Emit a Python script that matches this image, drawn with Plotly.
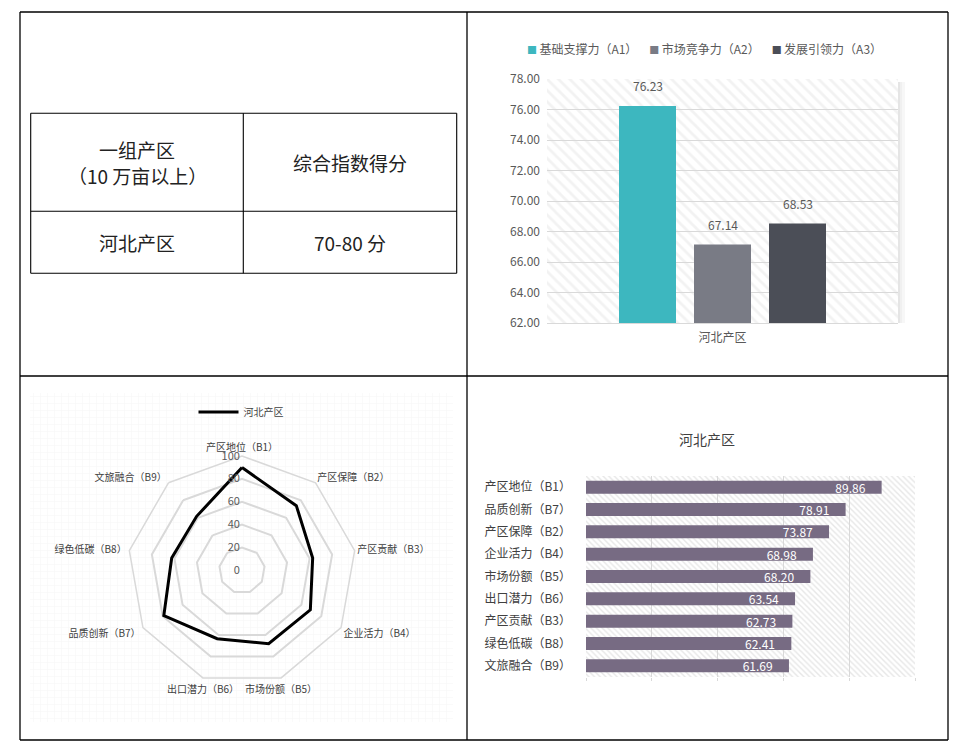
import math
import plotly.graph_objects as go

W, H = 967, 746
FONT = "Noto Sans CJK SC, Microsoft YaHei, sans-serif"

# ---------------- data ----------------
table_header_l = ["一组产区", "（10 万亩以上）"]
table_header_r = "综合指数得分"
table_row = ["河北产区", "70-80 分"]

region = "河北产区"
a_names = ["基础支撑力（A1）", "市场竞争力（A2）", "发展引领力（A3）"]
a_values = [76.23, 67.14, 68.53]
a_colors = ["#3db7bf", "#797b85", "#4b4e57"]
a_ticks = [62, 64, 66, 68, 70, 72, 74, 76, 78]

b_names = ["产区地位（B1）", "产区保障（B2）", "产区贡献（B3）", "企业活力（B4）",
           "市场份额（B5）", "出口潜力（B6）", "品质创新（B7）", "绿色低碳（B8）",
           "文旅融合（B9）"]
b_values = [89.86, 73.87, 62.73, 68.98, 68.20, 63.54, 78.91, 62.41, 61.69]
b_color = "#776b83"
radial_ticks = [0, 20, 40, 60, 80, 100]
bar_ticks = [0, 20, 40, 60, 80, 100]


def px(x):
    return x / W


def py(y):
    return 1 - y / H


# plot-area boxes (pixels)
TR = (547, 898, 79, 323)
BR = (586, 915, 476, 677)
BL = (30, 453, 393, 722)
cx, cy, R = 242, 570.4, 114.4
BARGAP, BARGROUPGAP = 0.359, 0.24

fig = go.Figure()

box = dict(x=[0, 1, 1, 0, 0], y=[0, 0, 1, 1, 0])


def hatch(xa, ya, shape, fg, size, sol):
    fig.add_trace(go.Scatter(
        **box, xaxis=xa, yaxis=ya, mode="lines", fill="toself",
        fillcolor="rgba(0,0,0,0)", line=dict(width=0),
        fillpattern=dict(shape=shape, fgcolor=fg, bgcolor="white", size=size, solidity=sol),
        hoverinfo="skip", showlegend=False))


hatch("x", "y", "\\", "#e6e6e6", 8, 0.35)
hatch("x2", "y2", "\\", "#cfcfcf", 4, 0.35)
hatch("x3", "y3", "+", "#e9e9e9", 7, 0.12)

# top-right grouped bars
for n, v, c in zip(a_names, a_values, a_colors):
    fig.add_trace(go.Bar(
        x=[region], y=[v], name=n, marker=dict(color=c, line=dict(width=0)),
        xaxis="x4", yaxis="y4", showlegend=False))

# bottom-right horizontal bars (sorted descending)
order = sorted(range(len(b_values)), key=lambda i: -b_values[i])
fig.add_trace(go.Bar(
    x=[b_values[i] for i in order], y=[b_names[i] for i in order],
    orientation="h", width=0.58, marker=dict(color=b_color, line=dict(width=0)),
    texttemplate="%{x:.2f}\u2007\u2007", textposition="inside", insidetextanchor="end",
    constraintext="none",
    textfont=dict(size=12, color="white"), xaxis="x5", yaxis="y5", showlegend=False))

# radar
fig.add_trace(go.Scatterpolar(
    r=b_values + [b_values[0]], theta=b_names + [b_names[0]], mode="lines",
    line=dict(color="black", width=3), name=region, legend="legend2"))

# angular labels near the bottom are centred under their vertex (as in the source)
nB = len(b_names)
angles = [i * 360 / nB for i in range(nB)]
bottom = [math.cos(math.radians(a)) < -0.9 for a in angles]
ang_text = ["" if bt else n for n, bt in zip(b_names, bottom)]

hidden = dict(visible=False, range=[0, 1], fixedrange=True)
fig.update_layout(
    width=W, height=H, margin=dict(l=0, r=0, t=0, b=0, autoexpand=False),
    paper_bgcolor="white", plot_bgcolor="rgba(0,0,0,0)",
    font=dict(family=FONT, size=12, color="#595959"),
    barmode="group", bargap=BARGAP, bargroupgap=BARGROUPGAP,
    xaxis=dict(domain=[px(TR[0]), px(TR[1])], anchor="y", **hidden),
    yaxis=dict(domain=[py(TR[3]), py(TR[2])], anchor="x", **hidden),
    xaxis2=dict(domain=[px(BR[0]), px(BR[1])], anchor="y2", **hidden),
    yaxis2=dict(domain=[py(BR[3]), py(BR[2])], anchor="x2", **hidden),
    xaxis3=dict(domain=[px(BL[0]), px(BL[1])], anchor="y3", **hidden),
    yaxis3=dict(domain=[py(BL[3]), py(BL[2])], anchor="x3", **hidden),
    xaxis4=dict(domain=[px(TR[0]), px(TR[1])], anchor="y4", type="category",
                showgrid=False, showline=True, linecolor="#d9d9d9", linewidth=1,
                ticks="", tickfont=dict(size=12, color="#595959"), ticklabelstandoff=4),
    yaxis4=dict(domain=[py(TR[3]), py(TR[2])], anchor="x4", range=[62, 78],
                tickvals=a_ticks, tickformat=".2f", gridcolor="#d9d9d9", gridwidth=1,
                showline=False, zeroline=False, ticks="",
                tickfont=dict(size=12, color="#595959"), ticklabelstandoff=6),
    xaxis5=dict(domain=[px(BR[0]), px(BR[1])], anchor="y5", range=[0, 100],
                tickvals=bar_ticks, showticklabels=False, gridcolor="#d9d9d9",
                zeroline=False, ticks="outside", ticklen=3, tickcolor="#d9d9d9"),
    yaxis5=dict(domain=[py(BR[3]), py(BR[2])], anchor="x5", type="category",
                autorange="reversed", showgrid=False, ticks="",
                tickfont=dict(size=12, color="#404040"), ticklabelstandoff=14),
    polar=dict(
        domain=dict(x=[px(cx - R), px(cx + R)], y=[py(cy + R), py(cy - R)]),
        bgcolor="rgba(0,0,0,0)", gridshape="linear",
        radialaxis=dict(range=[0, 100], tickvals=radial_ticks, angle=90, tickangle=90,
                        side="counterclockwise", showline=False, ticks="",
                        gridcolor="#d9d9d9", gridwidth=1.5,
                        tickfont=dict(size=11, color="#595959")),
        angularaxis=dict(direction="clockwise", rotation=90, showgrid=False,
                         tickvals=b_names, ticktext=ang_text,
                         showline=True, linecolor="#d9d9d9", linewidth=1.5, ticks="",
                         tickfont=dict(size=10, color="#404040"))),
    legend2=dict(orientation="h", x=px(241), xanchor="center", y=py(412), yanchor="middle",
                 font=dict(size=10, color="#404040"), bgcolor="rgba(0,0,0,0)",
                 itemwidth=40),
    showlegend=True,
)

shapes = []


def line(x0, y0, x1, y1, w=1.3):
    shapes.append(dict(type="line", xref="paper", yref="paper", x0=px(x0), y0=py(y0),
                       x1=px(x1), y1=py(y1), line=dict(color="black", width=w)))


# outer grid of the four panels
line(20, 12, 948, 12); line(20, 740, 948, 740)
line(20, 12, 20, 740); line(948, 12, 948, 740)
line(467, 12, 467, 740); line(20, 376, 948, 376)
# table in top-left panel
line(30.7, 113.3, 456.7, 113.3, 1.1); line(30.7, 273.3, 456.7, 273.3, 1.1)
line(30.7, 211.3, 456.7, 211.3, 1.1)
line(30.7, 113.3, 30.7, 273.3, 1.1); line(456.7, 113.3, 456.7, 273.3, 1.1)
line(243.3, 113.3, 243.3, 273.3, 1.1)
# soft shadow on the right of the top-right plot area
for (a, b, al) in [(898, 900, 0.10), (900, 902, 0.06), (902, 905, 0.03)]:
    shapes.append(dict(type="rect", xref="paper", yref="paper", x0=px(a), x1=px(b),
                       y0=py(TR[3]), y1=py(TR[2] + 3), line=dict(width=0),
                       fillcolor=f"rgba(0,0,0,{al})", layer="below"))
fig.update_layout(shapes=shapes)

ann = []
tfont = dict(family=FONT, size=19, color="#222222")
cells = [(137, 149.5, table_header_l[0]), (137, 175.5, table_header_l[1]),
         (350, 162.3, table_header_r),
         (137, 242.3, table_row[0]), (350, 242.3, table_row[1])]
for x, y, t in cells:
    ann.append(dict(xref="paper", yref="paper", x=px(x), y=py(y), text=t, showarrow=False,
                    xanchor="center", yanchor="middle", font=tfont))
ann.append(dict(xref="paper", yref="paper", x=px(707), y=py(439), text=region,
                showarrow=False, xanchor="center", yanchor="middle",
                font=dict(family=FONT, size=14, color="#404040")))
# legend of the top-right chart (colour key built from the series lists)
legend_txt = "\u2003".join(
    f"<span style='color:{c};font-size:10px'>■</span>\u2009{n}" for n, c in zip(a_names, a_colors))
ann.append(dict(xref="paper", yref="paper", x=px(704.5), y=py(48), text=legend_txt,
                showarrow=False, xanchor="center", yanchor="middle",
                font=dict(family=FONT, size=12, color="#595959")))
# value labels above the grouped bars, centred on each bar's slot
nA = len(a_values)
slot = (1 - BARGAP) / nA
for k, v in enumerate(a_values):
    ann.append(dict(xref="x4", yref="y4", x=(k - (nA - 1) / 2) * slot, y=v,
                    text=f"{v:.2f}", showarrow=False, xanchor="center", yanchor="middle",
                    yshift=20, font=dict(family=FONT, size=12, color="#595959")))
# centred radar labels for the bottom vertices
for n, a, bt in zip(b_names, angles, bottom):
    if bt:
        vx = cx + R * math.sin(math.radians(a))
        vy = cy - R * math.cos(math.radians(a))
        ann.append(dict(xref="paper", yref="paper", x=px(vx), y=py(vy + 11), text=n,
                        showarrow=False, xanchor="center", yanchor="middle",
                        font=dict(family=FONT, size=10, color="#404040")))
fig.update_layout(annotations=ann)

fig.write_html("out.html", config={"displayModeBar": False},
               post_script="document.body.style.margin='0';")
